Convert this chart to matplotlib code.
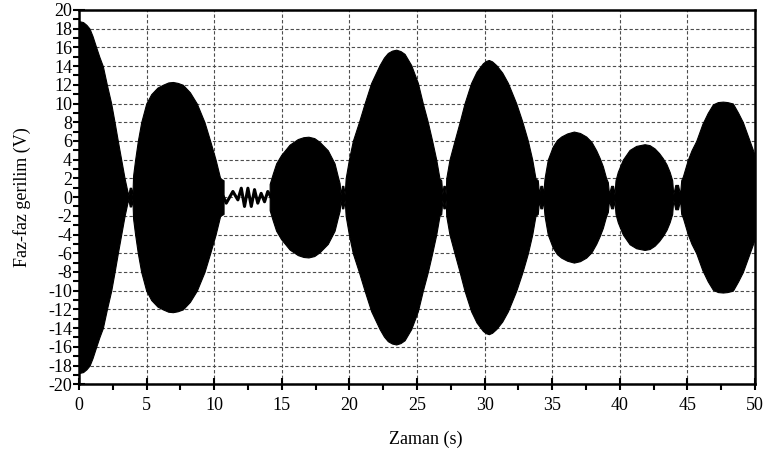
import matplotlib.pyplot as plt
from matplotlib.ticker import MultipleLocator

# envelope of the dense oscillation (amplitude, V)
env1_t = [0, 0.3, 0.55, 0.78, 1.0, 1.27, 1.5, 1.76, 2.06, 2.38, 2.63, 2.87,
          3.12, 3.37, 3.55, 3.65, 3.75, 3.85, 3.95, 4.0, 4.15, 4.35, 4.6, 4.97,
          5.34, 5.8, 6.2, 6.6, 6.94, 7.3, 7.68, 8.2, 8.71, 9.28, 9.7, 10.1,
          10.44, 10.69]
env1_a = [18.8, 18.7, 18.4, 18.0, 17.2, 16.0, 15.0, 14.0, 12.0, 10.0, 8.0, 6.0,
          4.0, 2.0, 0.8, 0.2, 1.0, 1.0, 0.2, 2.3, 4.0, 6.0, 8.0, 10.0,
          11.0, 11.7, 12.0, 12.25, 12.3, 12.2, 12.0, 11.2, 10.0, 8.0, 6.0, 4.0,
          2.0, 1.8]

# low-amplitude wiggle between 10.7 s and 14.2 s
wig_t = [10.69, 10.89, 11.38, 11.75, 12.0, 12.24, 12.49, 12.74, 12.98, 13.22,
         13.47, 13.72, 13.96, 14.2]
wig_v = [0.0, -0.65, 0.6, -0.3, 0.95, -1.0, 0.95, -1.0, 0.8, -0.65,
         0.4, -0.5, 0.6, 0.0]

env2_t = [14.1, 14.33, 14.58, 14.95, 15.57, 16.18, 16.6, 16.97, 17.4, 17.79,
          18.4, 18.9, 19.14, 19.27, 19.35, 19.45, 19.55, 19.65,
          19.72, 19.96, 20.25, 20.7, 21.12, 21.61, 22.23, 22.55, 22.84, 23.15,
          23.46, 23.78, 24.08, 24.57, 25.06, 25.43, 25.8, 26.12, 26.42, 26.66,
          26.79, 26.87, 26.95, 27.05, 27.12,
          27.16, 27.4, 27.77, 28.15, 28.51, 29.0, 29.4, 29.87, 30.1, 30.31,
          30.55, 30.86, 31.3, 31.72, 32.34, 32.8, 33.2, 33.52, 33.76, 33.93,
          34.02, 34.12, 34.25, 34.33,
          34.43, 34.67, 35.04, 35.35, 35.66, 36.1, 36.6, 37.05, 37.51, 37.9,
          38.25, 38.5, 38.74, 38.99, 39.11, 39.2, 39.35, 39.5, 39.6,
          39.68, 39.85, 40.22, 40.72, 41.21, 41.83, 42.2, 42.57, 42.9, 43.18,
          43.45, 43.68, 43.87, 43.95, 44.1, 44.3, 44.45,
          44.54, 44.66, 45.03, 45.3, 45.65, 46.1, 46.5, 46.88, 47.25, 47.62,
          47.95, 48.36, 48.75, 49.1, 49.6, 50.0]
env2_a = [1.4, 2.5, 3.6, 4.5, 5.6, 6.2, 6.4, 6.45, 6.3, 5.9,
          5.0, 3.6, 2.2, 1.5, 0.3, 1.2, 1.2, 0.3,
          2.0, 4.0, 6.0, 8.0, 10.0, 12.2, 14.1, 14.9, 15.4, 15.65,
          15.75, 15.6, 15.3, 14.1, 12.2, 10.0, 8.0, 6.0, 4.0, 2.0,
          1.8, 0.3, 1.2, 1.2, 0.3,
          2.0, 4.0, 6.0, 8.0, 10.0, 12.2, 13.4, 14.3, 14.55, 14.65,
          14.5, 14.1, 13.3, 12.2, 10.0, 8.0, 6.0, 4.0, 2.0, 1.8,
          0.3, 1.2, 1.2, 0.3,
          2.0, 4.0, 5.4, 6.1, 6.47, 6.8, 7.0, 6.85, 6.47, 5.9,
          5.0, 4.2, 3.3, 2.0, 1.6, 0.3, 1.2, 1.2, 0.3,
          1.8, 2.7, 4.0, 5.04, 5.47, 5.65, 5.55, 5.2, 4.7, 4.15,
          3.5, 2.7, 1.8, 0.3, 1.3, 1.3, 0.3,
          1.8, 2.2, 4.0, 5.0, 6.0, 7.8, 9.0, 9.9, 10.15, 10.2,
          10.15, 10.0, 9.0, 8.0, 6.0, 4.4]

plt.rcParams['font.family'] = ['Liberation Serif', 'DejaVu Serif']
plt.rcParams['font.size'] = 13
plt.rcParams['axes.unicode_minus'] = False

fig = plt.figure(figsize=(7.65, 4.51), dpi=100)
ax = fig.add_axes([0.1033, 0.148, 0.8837, 0.83])

lo1 = [-a for a in env1_a]
lo2 = [-a for a in env2_a]
ax.fill_between(env1_t, lo1, env1_a, color='black', lw=0.8, zorder=3)
ax.fill_between(env2_t, lo2, env2_a, color='black', lw=0.8, zorder=3)
ax.plot(wig_t, wig_v, color='black', lw=2.2, zorder=3)

ax.set_xlim(0, 50)
ax.set_ylim(-20, 20)
ax.xaxis.set_major_locator(MultipleLocator(5))
ax.xaxis.set_minor_locator(MultipleLocator(2.5))
ax.yaxis.set_major_locator(MultipleLocator(2))
ax.yaxis.set_minor_locator(MultipleLocator(1))

ax.grid(True, which='major', color='0.3', linestyle=(0, (3, 2)), lw=0.8)
ax.set_axisbelow(True)

for s in ax.spines.values():
    s.set_linewidth(1.8)

ax.tick_params(which='major', direction='inout', length=8, width=1.5,
               top=False, right=False, pad=1)
ax.tick_params(which='minor', direction='out', length=4, width=1.5,
               top=False, right=False)
ax.tick_params(axis='x', which='major', pad=5)

ax.set_xlabel("Zaman (s)")
ax.xaxis.set_label_coords(0.513, -0.124)
ax.set_ylabel("Faz-faz gerilim (V)", labelpad=12)

plt.savefig("out.png", dpi=100)
